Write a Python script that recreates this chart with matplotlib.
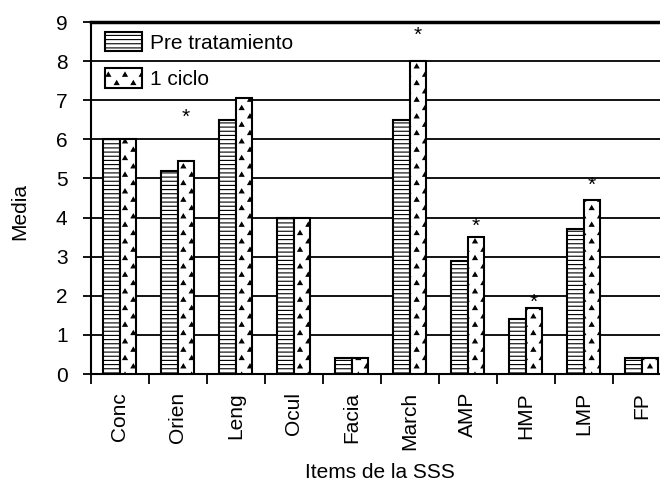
import matplotlib
matplotlib.use("Agg")
import matplotlib.pyplot as plt
import matplotlib.hatch as mhatch
from matplotlib.path import Path
import numpy as np

categories = ["Conc", "Orien", "Leng", "Ocul", "Facia", "March", "AMP", "HMP", "LMP", "FP"]
pre_tratamiento = [6.0, 5.2, 6.5, 4.0, 0.4, 6.5, 2.9, 1.4, 3.7, 0.4]
un_ciclo = [6.0, 5.45, 7.05, 4.0, 0.4, 8.0, 3.5, 1.7, 4.45, 0.4]
star_categories = ["Orien", "March", "AMP", "HMP", "LMP"]
star_heights = [6.74, 8.85, 3.95, 2.0, 5.0]
y_ticks = [0, 1, 2, 3, 4, 5, 6, 7, 8, 9]


# Small triangle "dot" hatch (replaces the filled-circle '.' hatch) to mimic the
# sparse triangle texture of the original chart.
class TriangleHatch(mhatch.HatchPatternBase):
    size = 0.025

    def __init__(self, hatch, density):
        n = hatch.count('.') * density
        self.centers = []
        if n:
            for r in range(n + 1):
                y = r / n
                off = (r % 2) / n
                xs = np.arange(off - 2 / n, 1 + 2 / n + 1e-9, 2 / n)
                for xx in xs:
                    if -0.05 <= xx <= 1.05:
                        self.centers.append((xx, y))
        self.num_vertices = len(self.centers) * 4

    def set_vertices_and_codes(self, vertices, codes):
        tri = Path.unit_regular_polygon(3).vertices[:4] * self.size
        tri[3] = tri[0]
        for i, c in enumerate(self.centers):
            vertices[i * 4:(i + 1) * 4] = tri + np.array(c)
            codes[i * 4:(i + 1) * 4] = [Path.MOVETO, Path.LINETO, Path.LINETO, Path.CLOSEPOLY]


mhatch._hatch_types = [t for t in mhatch._hatch_types
                       if t is not mhatch.SmallFilledCircles] + [TriangleHatch]

plt.rcParams["font.family"] = ["Liberation Sans", "DejaVu Sans"]
plt.rcParams["hatch.linewidth"] = 0.8
FS = 15

W, H = 660, 483
fig = plt.figure(figsize=(W / 100, H / 100), dpi=100)
left_px, right_px, top_px, bottom_px = 90.5, 670.5, 22, 374
ax = fig.add_axes([left_px / W, 1 - bottom_px / H,
                   (right_px - left_px) / W, (bottom_px - top_px) / H])

x = np.arange(len(categories))
bw = 0.276
ax.bar(x - bw / 2, pre_tratamiento, width=bw, facecolor="white", edgecolor="black",
       linewidth=1.5, hatch="----", label="Pre tratamiento", zorder=3)
ax.bar(x + bw / 2, un_ciclo, width=bw, facecolor="white", edgecolor="black",
       linewidth=1.5, hatch="..", label="1 ciclo", zorder=3)

for cat, h in zip(star_categories, star_heights):
    i = categories.index(cat)
    ax.annotate("*", xy=(i + bw / 2, h), xytext=(0, -0.6 * FS), textcoords="offset points",
                ha="center", va="baseline", fontsize=FS, zorder=4)

ax.set_xlim(-0.5, len(categories) - 0.5)
ax.set_ylim(0, 9)
ax.set_yticks(y_ticks)
ax.set_yticklabels([str(t) for t in y_ticks], fontsize=FS)
ax.tick_params(axis="y", direction="out", length=6, width=1.3, pad=10.5)

ax.set_xticks(x)
ax.set_xticklabels(categories, rotation=90, fontsize=FS, va="top")
ax.tick_params(axis="x", which="major", length=0, pad=13)
ax.set_xticks(np.arange(len(categories) + 1) - 0.5, minor=True)
ax.tick_params(axis="x", which="minor", direction="out", length=7, width=1.3)

ax.yaxis.grid(True, color="black", linewidth=1.3)
ax.set_axisbelow(True)
for s in ["left", "bottom"]:
    ax.spines[s].set_linewidth(1.5)
ax.spines["top"].set_linewidth(2.5)
ax.spines["right"].set_visible(False)

ax.legend(loc="upper left", bbox_to_anchor=(14.5 / 580, 1 - 10 / 352), frameon=False,
          fontsize=FS, handlelength=1.78, handleheight=1.06, handletextpad=0.38,
          labelspacing=0.75, borderpad=0, borderaxespad=0)

fig.text(20 / W, 1 - 212 / H, "Media", rotation=90, ha="center", va="center", fontsize=FS)
fig.text(380 / W, 1 - 473 / H, "Items de la SSS", ha="center", va="center", fontsize=FS)

fig.savefig("out.png", dpi=100)
